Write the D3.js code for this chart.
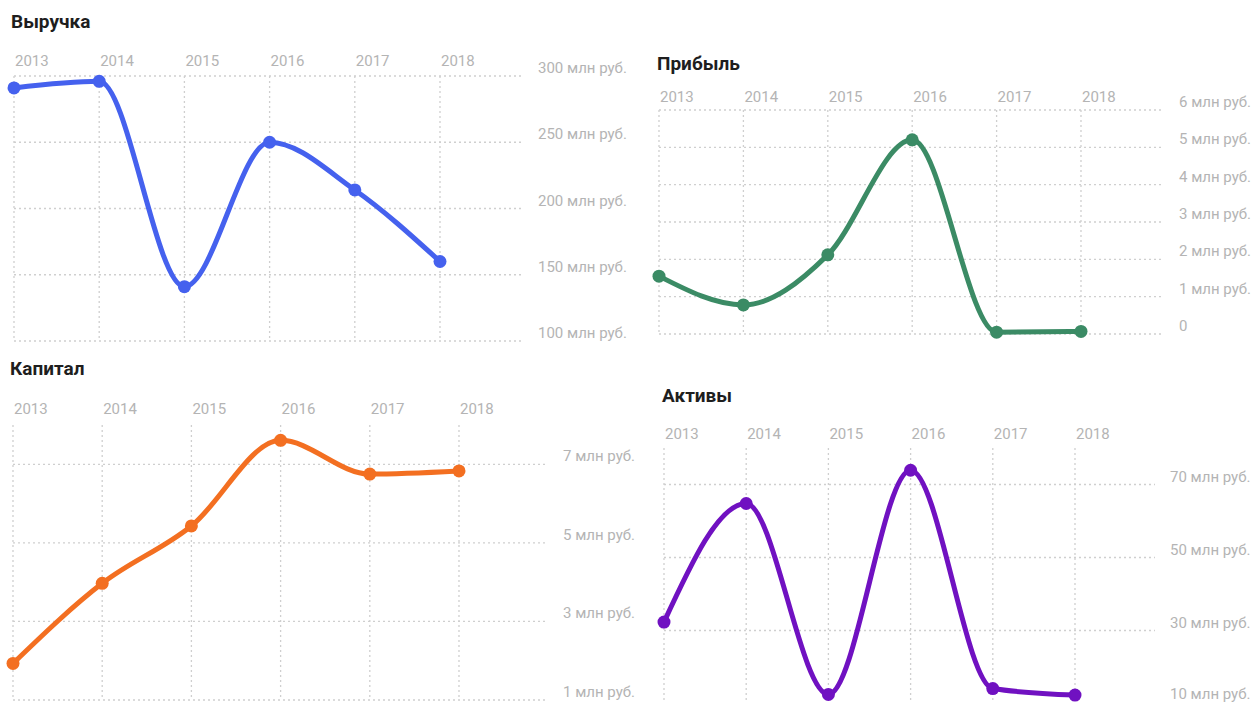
<!DOCTYPE html>
<html>
<head>
<meta charset="utf-8">
<script src="https://cdn.jsdelivr.net/npm/d3@7"></script>
<style>
  body { margin: 0; background: #fff; }
  .title { font-family: Roboto, sans-serif; font-weight: 700; font-size: 19px; fill: #1e1e1e; }
  .tick-label { font-family: Roboto, sans-serif; font-weight: 400; font-size: 15px; fill: #b4b4b4; }
  .grid { stroke: #cfcfcf; stroke-width: 1.3; stroke-dasharray: 2,3; fill: none; }
</style>
</head>
<body>
<div id="chart"></div>
<script>
const FRAME_WIDTH = 1252;
const FRAME_HEIGHT = 702;

const YEARS = ["2013", "2014", "2015", "2016", "2017", "2018"];

const REVENUE = [291, 296, 141, 250, 214, 160];
const PROFIT = [1.55, 0.78, 2.12, 5.2, 0.05, 0.07];
const CAPITAL = [1.93, 3.97, 5.43, 7.61, 6.75, 6.83];
const ASSETS = [32.3, 64.8, 12.5, 73.9, 14.1, 12.3];

const REVENUE_TICKS = [100, 150, 200, 250, 300];
const PROFIT_TICKS = [0, 1, 2, 3, 4, 5, 6];
const CAPITAL_TICKS = [1, 3, 5, 7];
const ASSETS_TICKS = [10, 30, 50, 70];

const UNIT = " млн руб.";

// layout of the four small charts
const PANELS = [
  { title: "Выручка", values: REVENUE, ticks: REVENUE_TICKS, domain: [100, 300],
    color: "#4561ee", titleX: 11, titleY: 28, left: 14, right: 440, gridRight: 522,
    labelX: 538, top: 76, bottom: 341, yearY: 66 },
  { title: "Прибыль", values: PROFIT, ticks: PROFIT_TICKS, domain: [0, 6],
    color: "#3b8b65", titleX: 657, titleY: 70, left: 659, right: 1081, gridRight: 1162,
    labelX: 1179, top: 110, bottom: 334, yearY: 102 },
  { title: "Капитал", values: CAPITAL, ticks: CAPITAL_TICKS, domain: [1, 8],
    color: "#f36f21", titleX: 10, titleY: 375, left: 13, right: 459, gridRight: 546,
    labelX: 563, top: 425, bottom: 700, yearY: 414 },
  { title: "Активы", values: ASSETS, ticks: ASSETS_TICKS, domain: [10, 80],
    color: "#7011c1", titleX: 662, titleY: 402, left: 664, right: 1075, gridRight: 1155,
    labelX: 1170, top: 448, bottom: 703.5, yearY: 439 }
];

const SVG = d3.select("#chart")
  .append("svg")
  .attr("width", FRAME_WIDTH)
  .attr("height", FRAME_HEIGHT);

PANELS.forEach((p) => {
  const G = SVG.append("g");

  const X_SCALE = d3.scalePoint()
    .domain(YEARS)
    .range([p.left, p.right]);

  const Y_SCALE = d3.scaleLinear()
    .domain(p.domain)
    .range([p.bottom, p.top]);

  G.append("text")
    .attr("class", "title")
    .attr("x", p.titleX)
    .attr("y", p.titleY)
    .text(p.title);

  // vertical grid + year labels
  G.selectAll(".vgrid")
    .data(YEARS)
    .enter()
    .append("line")
    .attr("class", "grid")
    .attr("x1", (d) => X_SCALE(d))
    .attr("x2", (d) => X_SCALE(d))
    .attr("y1", p.top)
    .attr("y2", p.bottom);

  G.selectAll(".year")
    .data(YEARS)
    .enter()
    .append("text")
    .attr("class", "tick-label")
    .attr("x", (d) => X_SCALE(d) + 1)
    .attr("y", p.yearY)
    .text((d) => d);

  // horizontal grid + value labels
  G.selectAll(".hgrid")
    .data(p.ticks)
    .enter()
    .append("line")
    .attr("class", "grid")
    .attr("x1", p.left)
    .attr("x2", p.gridRight)
    .attr("y1", (d) => Y_SCALE(d))
    .attr("y2", (d) => Y_SCALE(d));

  G.selectAll(".vlabel")
    .data(p.ticks)
    .enter()
    .append("text")
    .attr("class", "tick-label")
    .attr("x", p.labelX)
    .attr("y", (d) => Math.min(Y_SCALE(d) - 3, FRAME_HEIGHT - 3))
    .text((d) => d == 0 ? "0" : d + UNIT);

  const LINE = d3.line()
    .x((d, i) => X_SCALE(YEARS[i]))
    .y((d) => Y_SCALE(d))
    .curve(d3.curveMonotoneX);

  G.append("path")
    .datum(p.values)
    .attr("d", LINE)
    .attr("fill", "none")
    .attr("stroke", p.color)
    .attr("stroke-width", 5)
    .attr("stroke-linecap", "round");

  G.selectAll(".point")
    .data(p.values)
    .enter()
    .append("circle")
    .attr("cx", (d, i) => X_SCALE(YEARS[i]))
    .attr("cy", (d) => Y_SCALE(d))
    .attr("r", 6.5)
    .attr("fill", p.color);
});
</script>
</body>
</html>
